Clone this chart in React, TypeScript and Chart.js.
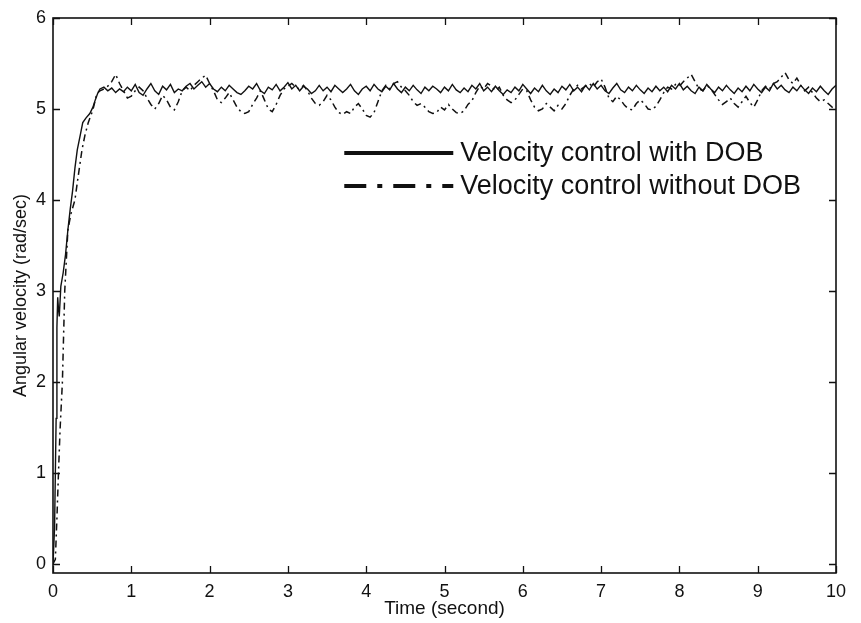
import React, { useEffect, useRef } from "react";
import { Chart, registerables } from "chart.js";

Chart.register(...registerables);

// ---- Data ----
const xTicks = [0, 1, 2, 3, 4, 5, 6, 7, 8, 9, 10];
const yTicks = [0, 1, 2, 3, 4, 5, 6];

const labelWith = "Velocity control with DOB";
const labelWithout = "Velocity control without DOB";

// start-up transient (time in s, value in rad/sec)
const riseTimeWith = [0, 0.02, 0.04, 0.05, 0.06, 0.07, 0.08, 0.1, 0.13, 0.16, 0.19, 0.22, 0.25, 0.28, 0.31, 0.35, 0.38, 0.42, 0.47, 0.51, 0.54, 0.57, 0.6];
const riseWith = [0, 0.4, 1.6, 2.6, 2.93, 2.8, 2.72, 3.05, 3.2, 3.4, 3.67, 3.9, 4.1, 4.35, 4.55, 4.72, 4.85, 4.9, 4.95, 5.02, 5.1, 5.17, 5.22];

const riseTimeWithout = [0, 0.03, 0.05, 0.07, 0.09, 0.12, 0.15, 0.19, 0.23, 0.28, 0.32, 0.37, 0.41, 0.45, 0.51, 0.56, 0.6];
const riseWithout = [0, 0.05, 0.5, 1.0, 1.47, 2.0, 3.0, 3.67, 3.85, 4.0, 4.25, 4.55, 4.72, 4.85, 4.99, 5.17, 5.2];

// steady part, sampled every 0.05 s from 0.65 s to 10 s
const steadyStart = 0.65;
const steadyStep = 0.05;

const steadyWith = [
  5.24, 5.2, 5.23, 5.18, 5.22, 5.19, 5.24,
  5.2, 5.27, 5.18, 5.15, 5.22, 5.28, 5.2, 5.16, 5.25, 5.21, 5.27, 5.18, 5.22, 5.2, 5.25, 5.28, 5.22, 5.26, 5.3, 5.24,
  5.28, 5.22, 5.19, 5.24, 5.2, 5.26, 5.22, 5.18, 5.16, 5.2, 5.25, 5.22, 5.28, 5.2, 5.17, 5.24, 5.21, 5.27, 5.2, 5.24,
  5.29, 5.22, 5.26, 5.2, 5.25, 5.22, 5.17, 5.2, 5.26, 5.2, 5.24, 5.19, 5.26, 5.22, 5.18, 5.22, 5.27, 5.2, 5.16, 5.22,
  5.25, 5.2, 5.27, 5.22, 5.19, 5.25, 5.21, 5.28, 5.22, 5.18, 5.24, 5.2, 5.26, 5.21, 5.17, 5.24, 5.2, 5.25, 5.22, 5.18,
  5.24, 5.2, 5.27, 5.21, 5.18, 5.23, 5.19, 5.26, 5.22, 5.28, 5.2, 5.24, 5.19, 5.25, 5.2, 5.16, 5.21, 5.18, 5.24, 5.2,
  5.27, 5.22, 5.17, 5.23, 5.19, 5.26, 5.2, 5.16, 5.22, 5.18, 5.25, 5.21, 5.27, 5.2, 5.24, 5.19, 5.26, 5.21, 5.28, 5.22,
  5.26, 5.2, 5.17, 5.23, 5.28, 5.21, 5.18, 5.24, 5.2, 5.26, 5.21, 5.17, 5.23, 5.19, 5.25, 5.2, 5.24, 5.19, 5.26, 5.22,
  5.28, 5.21, 5.25, 5.2, 5.17, 5.24, 5.2, 5.27, 5.22, 5.18, 5.24, 5.2, 5.26, 5.21, 5.17, 5.23, 5.19, 5.25, 5.2, 5.27,
  5.22, 5.18, 5.24, 5.2, 5.28, 5.22, 5.26, 5.21, 5.18, 5.24, 5.2, 5.26, 5.21, 5.17, 5.23, 5.19, 5.25, 5.2, 5.16, 5.22,
  5.26,
];

const steadyWithout = [
  5.22, 5.25, 5.3, 5.38, 5.28, 5.2, 5.12,
  5.14, 5.2, 5.24, 5.2, 5.12, 5.05, 5.0, 5.06, 5.15, 5.1, 5.02, 4.99, 5.08, 5.2, 5.24, 5.2, 5.26, 5.3, 5.34, 5.37,
  5.28, 5.2, 5.1, 5.07, 5.12, 5.18, 5.1, 5.02, 4.97, 4.95, 4.97, 5.05, 5.12, 5.2, 5.1, 5.0, 4.97, 5.05, 5.15, 5.22,
  5.25, 5.28, 5.24, 5.22, 5.26, 5.2, 5.12, 5.06, 5.04, 5.08, 5.15, 5.1, 5.02, 4.96, 4.94, 4.97, 4.95, 5.02, 5.06, 5.0,
  4.93, 4.91, 4.96, 5.08, 5.2, 5.26, 5.22, 5.28, 5.3, 5.24, 5.2, 5.15, 5.08, 5.04, 5.06, 5.02, 4.97, 4.95, 4.96, 5.02,
  4.99, 5.05, 5.0, 4.96, 4.95, 4.98, 5.05, 5.09, 5.18, 5.25, 5.22, 5.28, 5.25, 5.2, 5.24, 5.15, 5.1, 5.07, 5.1, 5.16,
  5.22, 5.2, 5.1, 5.02, 4.98, 5.0, 5.06, 5.02, 4.98, 5.04, 5.0, 5.06, 5.15, 5.22, 5.26, 5.22, 5.25, 5.28, 5.24, 5.3,
  5.33, 5.24, 5.12, 5.08, 5.14, 5.1, 5.04, 5.0, 4.99, 5.06, 5.1, 5.06, 5.0, 4.99, 5.03, 5.1, 5.18, 5.24, 5.22, 5.27,
  5.25, 5.3, 5.34, 5.38, 5.3, 5.22, 5.2, 5.26, 5.22, 5.16, 5.1, 5.05, 5.08, 5.12, 5.06, 5.02, 5.08, 5.14, 5.07, 5.02,
  5.1, 5.2, 5.25, 5.22, 5.28, 5.3, 5.35, 5.4, 5.32, 5.28, 5.34, 5.26, 5.2, 5.24, 5.18, 5.12, 5.08, 5.1, 5.06, 5.02,
  5.0,
];

const FONT = "'Liberation Sans', Arial, Helvetica, sans-serif";
const INK = "#111111";

function buildPoints(riseT: number[], riseV: number[], steady: number[]) {
  const pts = riseT.map((t, i) => ({ x: t, y: riseV[i] }));
  steady.forEach((v, i) => {
    pts.push({ x: Math.round((steadyStart + i * steadyStep) * 1000) / 1000, y: v });
  });
  return pts;
}

const framePlugin = {
  id: "matlabFrame",
  afterDraw(chart: any) {
    const { ctx, chartArea, scales } = chart;
    const { left, right, top, bottom } = chartArea;
    const tl = 7;
    ctx.save();
    ctx.strokeStyle = INK;
    ctx.lineWidth = 1.6;
    ctx.strokeRect(left, top, right - left, bottom - top);
    ctx.lineWidth = 1.3;
    ctx.beginPath();
    scales.x.ticks.forEach((t: any) => {
      const px = Math.round(scales.x.getPixelForValue(t.value)) + 0.5;
      ctx.moveTo(px, bottom);
      ctx.lineTo(px, bottom - tl);
      ctx.moveTo(px, top);
      ctx.lineTo(px, top + tl);
    });
    scales.y.ticks.forEach((t: any) => {
      const py = Math.round(scales.y.getPixelForValue(t.value)) + 0.5;
      ctx.moveTo(left, py);
      ctx.lineTo(left + tl, py);
      ctx.moveTo(right, py);
      ctx.lineTo(right - tl, py);
    });
    ctx.stroke();

    // legend (no box), inside the axes
    const ds = chart.data.datasets;
    const lx0 = left + (right - left) * 0.372;
    const lx1 = lx0 + 109;
    const rows = [top + 135, top + 168];
    ds.forEach((d: any, i: number) => {
      const y = rows[i];
      ctx.save();
      ctx.strokeStyle = INK;
      ctx.lineWidth = 4;
      ctx.setLineDash(i === 0 ? [] : [22, 11, 5, 11]);
      ctx.beginPath();
      ctx.moveTo(lx0, y);
      ctx.lineTo(lx1, y);
      ctx.stroke();
      ctx.restore();
      ctx.fillStyle = INK;
      ctx.font = `27px ${FONT}`;
      ctx.textBaseline = "middle";
      ctx.textAlign = "left";
      ctx.fillText(d.label, lx1 + 7, y + 1);
    });
    ctx.restore();
  },
};

export default function App() {
  const canvasRef = useRef<HTMLCanvasElement | null>(null);

  useEffect(() => {
    document.body.style.margin = "0";
    const canvas = canvasRef.current;
    if (!canvas) return;
    const chart = new Chart(canvas, {
      type: "line",
      data: {
        datasets: [
          {
            label: labelWith,
            data: buildPoints(riseTimeWith, riseWith, steadyWith),
            borderColor: INK,
            borderWidth: 1.4,
            pointRadius: 0,
            tension: 0,
            fill: false,
          },
          {
            label: labelWithout,
            data: buildPoints(riseTimeWithout, riseWithout, steadyWithout),
            borderColor: INK,
            borderWidth: 1.5,
            borderDash: [7, 4, 2, 4],
            pointRadius: 0,
            tension: 0,
            fill: false,
          },
        ],
      },
      options: {
        animation: false,
        responsive: true,
        maintainAspectRatio: false,
        layout: { padding: { left: 0, top: 18, right: 25, bottom: 0 } },
        plugins: {
          legend: { display: false },
          tooltip: { enabled: false },
        },
        scales: {
          x: {
            type: "linear",
            min: 0,
            max: 10,
            afterBuildTicks: (scale: any) => {
              scale.ticks = xTicks.map((v) => ({ value: v }));
            },
            afterFit: (scale: any) => {
              scale.height = 50;
            },
            grid: { display: false, drawTicks: false },
            border: { display: false },
            ticks: {
              color: INK,
              font: { family: FONT, size: 18 },
              padding: 8,
              maxRotation: 0,
              autoSkip: false,
            },
            title: {
              display: true,
              text: "Time (second)",
              color: INK,
              font: { family: FONT, size: 19 },
              padding: { top: 0, bottom: 3 },
            },
          },
          y: {
            type: "linear",
            min: -0.1,
            max: 6,
            afterBuildTicks: (scale: any) => {
              scale.ticks = yTicks.map((v) => ({ value: v }));
            },
            afterFit: (scale: any) => {
              scale.width = 53;
            },
            grid: { display: false, drawTicks: false },
            border: { display: false },
            ticks: {
              color: INK,
              font: { family: FONT, size: 18 },
              padding: 7,
              autoSkip: false,
            },
            title: {
              display: true,
              text: "Angular velocity (rad/sec)",
              color: INK,
              font: { family: FONT, size: 18 },
              padding: { top: 10, bottom: 0 },
            },
          },
        },
      },
      plugins: [framePlugin],
    });
    return () => chart.destroy();
  }, []);

  return (
    <div style={{ position: "absolute", left: 0, top: 0, width: 861, height: 623, background: "#fff" }}>
      <canvas ref={canvasRef} />
    </div>
  );
}
